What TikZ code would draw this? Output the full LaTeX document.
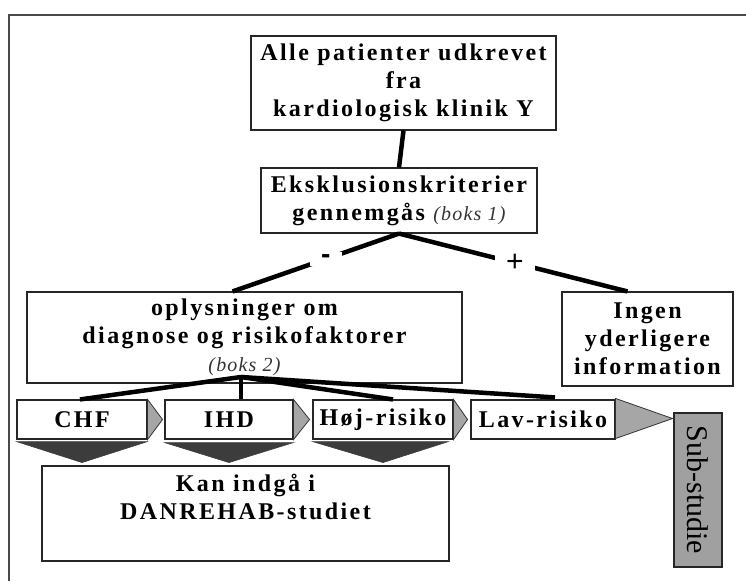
\documentclass[tikz,border=0pt]{standalone}
\usepackage{fontspec}
\setmainfont{Liberation Serif}
\newfontfamily\spfont[LetterSpace=10]{Liberation Serif}
\newfontfamily\itfont[LetterSpace=6]{Liberation Serif}
\newfontfamily\plusfont{Liberation Sans}
\usetikzlibrary{calc}
\definecolor{tipgray}{HTML}{A6A6A6}
\definecolor{dkgray}{HTML}{3C3C3C}
\definecolor{framegray}{HTML}{4A4A4A}
\definecolor{subgray}{HTML}{A0A0A0}
\newcommand{\bokstxt}[1]{{\itfont\mdseries\itshape\fontsize{20}{24}\selectfont\color{black!80}#1}}
\tikzset{
  box/.style={draw=black!85, line width=1.1pt, fill=white, inner sep=0pt, align=center,
    font=\spfont\bfseries\fontsize{24}{28}\selectfont},
  chevbox/.style={box, minimum height=39pt},
  conn/.style={line width=4.5pt},
  lbl/.style={fill=white, inner sep=0pt, minimum width=32pt, minimum height=14pt,
    font=\plusfont\fontsize{30}{32}\selectfont},
  tipshape/.style={fill=tipgray, draw=black!80, line width=0.8pt},
  downshape/.style={fill=dkgray, draw=dkgray, line width=0.6pt}
}
\begin{document}
\begin{tikzpicture}[x=1pt,y=-1pt]
\useasboundingbox (0,0) rectangle (746,581);
% outer frame
\draw[framegray, line width=2pt] (746,15) -- (9,15) -- (9,581);

% boxes
\node[box, minimum width=305pt, minimum height=94pt] (top) at (403.5,83)
  {Alle patienter udkrevet\\fra\\kardiologisk klinik Y};
\node[box, minimum width=276pt, minimum height=65pt] (ek) at (399,200.5)
  {Eksklusionskriterier\\gennemgås \bokstxt{(boks 1)}};
\node[box, minimum width=435pt, minimum height=91pt] (opl) at (244.5,337.5)
  {oplysninger om\\diagnose og risikofaktorer\\\bokstxt{(boks 2)}};
\node[box, minimum width=171pt, minimum height=94pt] (ing) at (647.5,339)
  {Ingen\\yderligere\\information};

% chevron boxes
\node[chevbox, minimum width=130pt] (chf) at (82,419.5) {CHF};
\node[chevbox, minimum width=128pt] (ihd) at (229,419.5) {IHD};
\node[chevbox, minimum width=140pt] (hoj) at (383,419.5) {Høj-risiko};
\node[chevbox, minimum width=144pt] (lav) at (543,419.5) {Lav-risiko};

% right tips
\draw[tipshape] (chf.north east) -- ($(chf.east)+(15,0)$) -- (chf.south east) -- cycle;
\draw[tipshape] (ihd.north east) -- ($(ihd.east)+(16,0)$) -- (ihd.south east) -- cycle;
\draw[tipshape] (hoj.north east) -- ($(hoj.east)+(14,0)$) -- (hoj.south east) -- cycle;
\draw[tipshape] ($(lav.north east)+(0,-1)$) -- ($(lav.east)+(57,-1)$) -- ($(lav.south east)+(0,-1)$) -- cycle;

% down chevrons
\draw[downshape] ($(chf.south west)+(0,2)$) -- ($(chf.south east)+(0,2)$) -- ($(chf.south)+(0,23)$) -- cycle;
\draw[downshape] ($(ihd.south west)+(0,3)$) -- ($(ihd.south east)+(0,3)$) -- ($(ihd.south)+(0,23)$) -- cycle;
\draw[downshape] ($(hoj.south west)+(0,2)$) -- ($(hoj.south east)+(-5,2)$) -- ($(hoj.south)+(0,23)$) -- cycle;

% Kan indgaa
\node[box, minimum width=407pt, minimum height=95pt] (kan) at (245.5,513.5) {};
\node[font=\spfont\bfseries\fontsize{24}{28}\selectfont, align=center, anchor=north, inner sep=0pt]
  (kantxt) at (245.5,474) {Kan indgå i\\DANREHAB-studiet};

% Sub-studie
\node[draw=black!85, line width=1.1pt, fill=subgray, rotate=-90, minimum width=154pt,
  minimum height=48pt, inner sep=0pt, font=\fontsize{30}{32}\selectfont] (sub) at (698,490) {Sub-studie};

% connectors
\draw[conn] (top.south) -- (ek.north);
\draw[conn] (ek.south) -- node[lbl, pos=0.44, font=\plusfont\bfseries\fontsize{28}{30}\selectfont] (minus) {-} ($(opl.north)+(-12,0)$);
\draw[conn] (ek.south) -- node[lbl, pos=0.507, minimum width=40pt] (plus) {+} ($(ing.north)+(-20,0)$);

\coordinate (apex) at (241,377);
\draw[conn] (apex) -- ($(chf.north)+(-2,0)$);
\draw[conn] (apex) -- (apex |- ihd.north);
\draw[conn] (apex) -- ($(hoj.north)+(10,0)$);
\draw[conn] (apex) -- ($(lav.north)+(12,-2)$);
\end{tikzpicture}
\end{document}
